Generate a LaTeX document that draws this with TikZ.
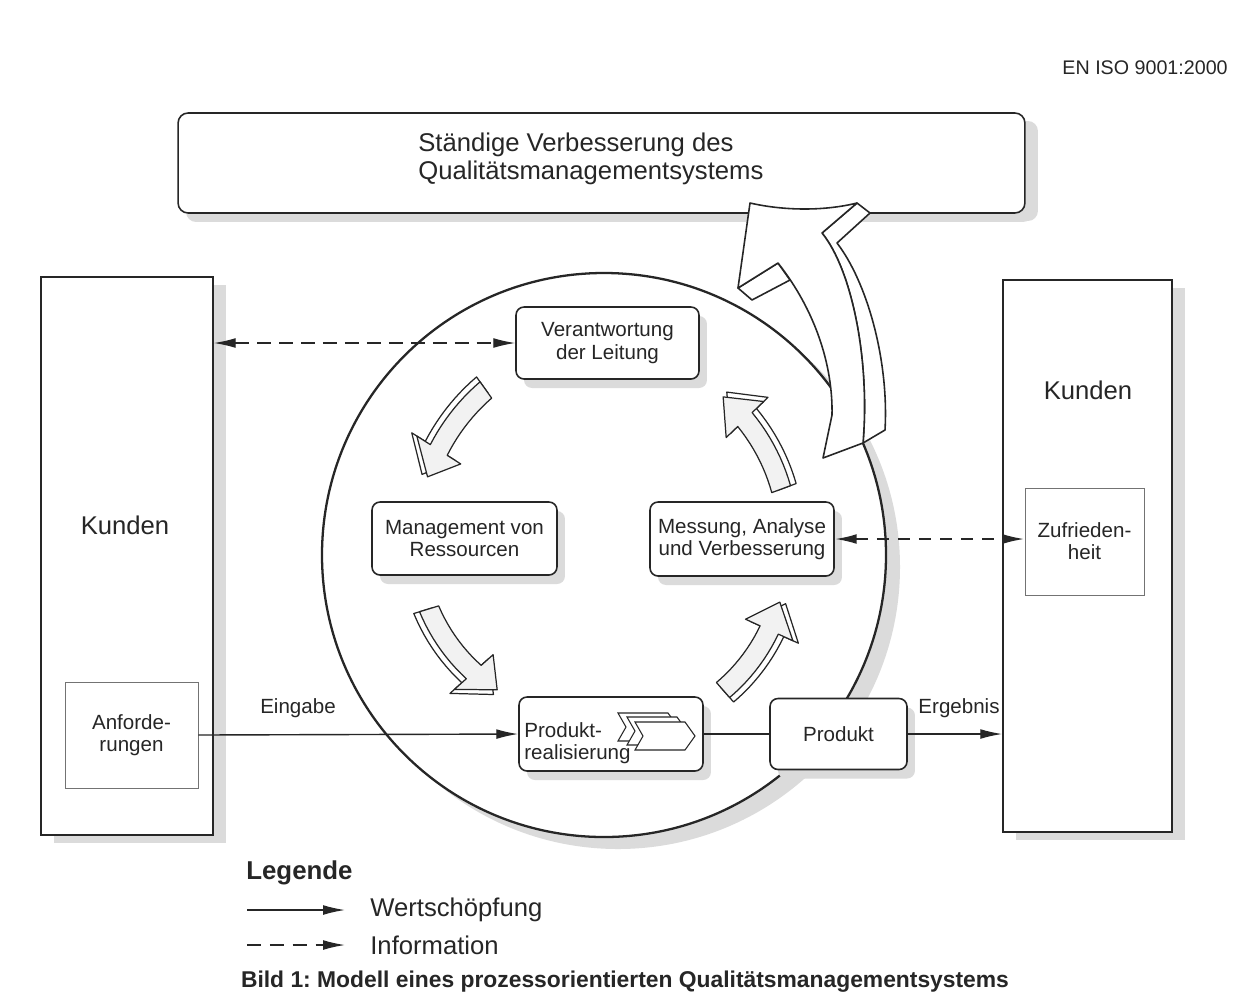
\documentclass[tikz,border=0pt]{standalone}
\usepackage{fontspec}
\setmainfont{Liberation Sans}
\usetikzlibrary{arrows.meta,shadows}
\frenchspacing
\newcommand{\fbig}{\fontsize{14.6}{15.9}\selectfont}
\newcommand{\cycarrow}[4]{%
 \begin{scope}[shift={(604,-555)}]
  \pgfmathsetmacro{\aA}{#1}\pgfmathsetmacro{\aB}{#2}%
  \pgfmathsetmacro{\rA}{#3}\pgfmathsetmacro{\rB}{#4}%
  \pgfmathsetmacro{\aH}{\aA+(\aB-\aA)*0.72}%
  \pgfmathsetmacro{\rH}{\rA+(\rB-\rA)*0.72}%
  \foreach \dd/\fc in {6/white,0/gray!10}{%
   \filldraw[fill=\fc,draw=black!85,line width=0.7pt,line join=round]
     plot[domain=0:0.72,samples=12] ({\aA+(\aB-\aA)*\x}:{\rA+(\rB-\rA)*\x+10+\dd})
     -- ({\aH}:{\rH+26+\dd})
     -- ({\aB}:{\rB+\dd})
     -- ({\aH}:{\rH-26+\dd})
     -- ({\aH}:{\rH-10+\dd})
     -- plot[domain=0.72:0,samples=12] ({\aA+(\aB-\aA)*\x}:{\rA+(\rB-\rA)*\x-10+\dd})
     -- cycle;
  }
 \end{scope}}
\newcommand{\chev}[2]{%
 \filldraw[fill=white,draw=black!85,line width=0.6pt]
  (#1,-#2) -- ++(50,0) -- ++(10,-14) -- ++(-10,-14) -- ++(-50,0) -- ++(8,14) -- cycle;}
\begin{document}
\begin{tikzpicture}[x=0.02cm,y=0.02cm,
  font=\fontsize{11.7}{12.6}\selectfont, text=black!85,
  >={Latex[length=12.5pt,width=5.6pt]},
  shd/.style={drop shadow={shadow xshift=0.16cm,shadow yshift=-0.18cm,fill=gray!28,opacity=1}},
  bigshd/.style={drop shadow={shadow xshift=0.26cm,shadow yshift=-0.16cm,fill=gray!28,opacity=1}},
  rbox/.style={draw=black!85,line width=0.9pt,rounded corners=0.16cm,fill=white,align=center,inner sep=0pt,shd},
  kbox/.style={draw=black!85,line width=0.9pt,fill=white,inner sep=0pt,bigshd},
  ibox/.style={draw=black!55,line width=0.5pt,fill=white,align=center,inner sep=0pt},
  flow/.style={line width=0.8pt,draw=black!85,->},
  info/.style={line width=0.7pt,draw=black!85,dash pattern=on 8pt off 4.5pt,<->},
  infob/.style={line width=1.2pt,draw=black!85,dash pattern=on 7pt off 5pt,<->},
  lbl/.style={inner sep=0pt},
  bigarrow/.style={fill=white,draw=black!85,line width=0.9pt,line join=round},
]
\useasboundingbox (0,0) rectangle (1250,-1002);
\fill[white] (0,0) rectangle (1250,-1002);

% header
\node[lbl,anchor=east,font=\fontsize{11.2}{12}\selectfont] (iso) at (1228,-68) {EN ISO 9001:2000};

% top box
\node[rbox,bigshd,rounded corners=0.2cm,minimum width=16.94cm,minimum height=2cm] (top) at (601.5,-163) {};
\node[lbl,anchor=west,align=left,font=\fbig] (toptext) at (418,-159) {Ständige Verbesserung des\\Qualitätsmanagementsystems};

% customer boxes
\node[kbox,minimum width=3.44cm,minimum height=11.16cm] (lk) at (127,-556) {};
\node[lbl,font=\fbig] (lktext) at (125,-525) {Kunden};
\node[ibox,minimum width=2.66cm,minimum height=2.12cm] (anf) at (131.5,-735) {Anforde-\\rungen};
\node[kbox,minimum width=3.38cm,minimum height=11.04cm] (rk) at (1087.5,-556) {};
\node[lbl,font=\fbig] (rktext) at (1088,-390) {Kunden};
\node[ibox,minimum width=2.38cm,minimum height=2.14cm] (zuf) at (1084.5,-541.5) {Zufrieden-\\heit};

% circle
\draw[fill=white,draw=black!85,line width=1.3pt,drop shadow={shadow xshift=0.28cm,shadow yshift=-0.24cm,fill=gray!28,opacity=1}] (604,-555) circle (282);

% process nodes
\node[rbox,minimum width=3.66cm,minimum height=1.44cm] (ver) at (607.5,-343) {Verantwortung\\der Leitung};
\node[rbox,minimum width=3.7cm,minimum height=1.46cm] (man) at (464.5,-538.5) {Management von\\Ressourcen};
\node[rbox,minimum width=3.68cm,minimum height=1.48cm] (mes) at (742,-539) {Messung, Analyse\\und Verbesserung};
\node[rbox,minimum width=3.68cm,minimum height=1.48cm] (pr) at (611,-734) {};
\chev{618}{713}
\chev{627}{717}
\chev{635}{722}
\node[lbl,anchor=west,align=left] (prtext) at (524,-743.5) {Produkt-\\realisierung};
\node[rbox,minimum width=2.74cm,minimum height=1.42cm] (prod) at (838.5,-734) {Produkt};

% connectors
\draw[flow] (anf.east) -- (pr.west);
\draw[line width=0.8pt,draw=black!85] (pr.east) -- (prod.west);
\draw[flow] (prod.east) -- (rk.west |- prod.east);
\draw[info] (lk.east |- ver.west) -- (ver.west);
\draw[infob] (mes.east) -- (zuf.west |- mes.east);
\node[lbl] (eing) at (298,-708) {Eingabe};
\node[lbl] (erg) at (959,-708) {Ergebnis};

% cycle arrows
\cycarrow{125.6}{156.1}{203}{193}
\cycarrow{197.1}{231.6}{183}{172}
\cycarrow{-48.6}{-15}{180}{182}
\cycarrow{20.4}{53}{189}{198}

% big improvement arrow
\filldraw[bigarrow] (857,-203) -- (870,-213) -- (837,-243) .. controls (867,-282) and (889,-360) .. (885,-430)
   -- (863,-443) .. controls (870,-360) and (852,-270) .. (822,-233) -- cycle;
\filldraw[bigarrow] (738,-288) -- (752,-300) -- (790,-280) -- (778,-263) -- cycle;
\filldraw[bigarrow] (750,-203) .. controls (785,-211) and (825,-211) .. (857,-203) -- (822,-233)
   .. controls (852,-270) and (870,-360) .. (863,-443) -- (823,-458) -- (832,-415)
   .. controls (833,-365) and (815,-310) .. (778,-263) -- (738,-288) -- cycle;

% legend
\node[lbl,anchor=west,font=\fontsize{14.7}{16}\selectfont\bfseries] (leg) at (246,-873) {Legende};
\coordinate (l1a) at (247,-910);
\coordinate (l1b) at (345,-910);
\draw[flow] (l1a) -- (l1b);
\node[lbl,anchor=west,font=\fbig] (l1t) at (370,-910) {Wertschöpfung};
\coordinate (l2a) at (247,-945);
\coordinate (l2b) at (345,-945);
\draw[line width=0.8pt,draw=black!85,dash pattern=on 8pt off 5pt,->] (l2a) -- (l2b);
\node[lbl,anchor=west,font=\fbig] (l2t) at (370,-945) {Information};
\node[lbl,font=\fontsize{13}{14}\selectfont\bfseries] (cap) at (625,-982) {Bild 1: Modell eines prozessorientierten Qualitätsmanagementsystems};
\end{tikzpicture}
\end{document}
